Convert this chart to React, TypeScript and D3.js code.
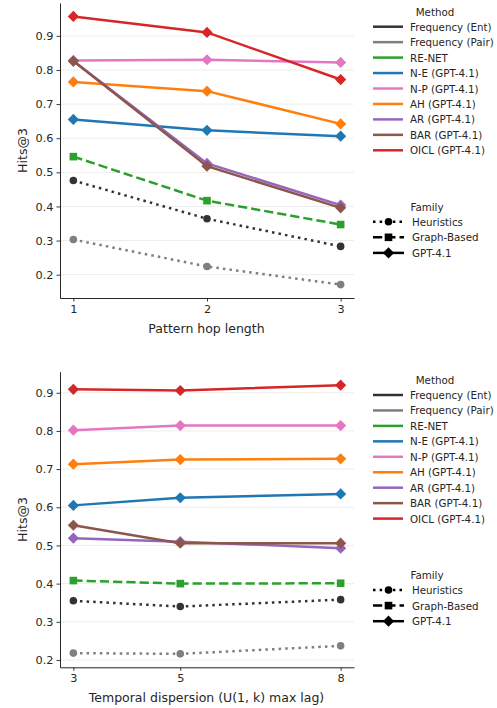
import React, { useEffect, useRef } from "react";
import * as d3 from "d3";

// method legend / series order (draw order too)
const methodNames = [
  "Frequency (Ent)",
  "Frequency (Pair)",
  "RE-NET",
  "N-E (GPT-4.1)",
  "N-P (GPT-4.1)",
  "AH (GPT-4.1)",
  "AR (GPT-4.1)",
  "BAR (GPT-4.1)",
  "OICL (GPT-4.1)",
];
const methodColors = ["#333333", "#7f7f7f", "#2ca02c", "#1f77b4", "#e377c2", "#ff7f0e", "#9467bd", "#8c564b", "#d62728"];
const methodFamily = ["Heuristics", "Heuristics", "Graph-Based", "GPT-4.1", "GPT-4.1", "GPT-4.1", "GPT-4.1", "GPT-4.1", "GPT-4.1"];

const familyNames = ["Heuristics", "Graph-Based", "GPT-4.1"];

// panel 1: pattern hop length
const hopLengths = [1, 2, 3];
const hopScores = [
  [0.476, 0.364, 0.283],
  [0.303, 0.224, 0.171],
  [0.546, 0.417, 0.347],
  [0.655, 0.623, 0.606],
  [0.828, 0.830, 0.822],
  [0.765, 0.738, 0.642],
  [0.826, 0.526, 0.404],
  [0.826, 0.518, 0.396],
  [0.957, 0.910, 0.772],
];

// panel 2: temporal dispersion
const lagValues = [3, 5, 8];
const lagScores = [
  [0.355, 0.340, 0.358],
  [0.218, 0.216, 0.237],
  [0.408, 0.400, 0.401],
  [0.605, 0.625, 0.635],
  [0.802, 0.814, 0.814],
  [0.713, 0.725, 0.727],
  [0.519, 0.510, 0.493],
  [0.553, 0.506, 0.506],
  [0.909, 0.906, 0.920],
];

const yTicks = [0.2, 0.3, 0.4, 0.5, 0.6, 0.7, 0.8, 0.9];

const FONT = "DejaVu Sans, sans-serif";
const LW = 2.5;

// matplotlib-like dash patterns, scaled by line width
function dashFor(family) {
  if (family === "Heuristics") return `${LW},${LW * 1.65}`;
  if (family === "Graph-Based") return `${LW * 3.7},${LW * 1.6}`;
  return null;
}

function drawMarker(g, family, x, y, color) {
  if (family === "Heuristics") {
    g.append("circle").attr("cx", x).attr("cy", y).attr("r", 3.8).attr("fill", color);
  } else if (family === "Graph-Based") {
    g.append("rect").attr("x", x - 3.8).attr("y", y - 3.8).attr("width", 7.6).attr("height", 7.6).attr("fill", color);
  } else {
    const s = 5.6;
    g.append("path")
      .attr("d", `M${x},${y - s}L${x + s},${y}L${x},${y + s}L${x - s},${y}Z`)
      .attr("fill", color);
  }
}

function drawPanel(svg, opts) {
  const { xs, scores, top, bottom, xLabel, legendTop } = opts;
  const left = 60, right = 354;

  const xExt = d3.extent(xs);
  const xPad = (xExt[1] - xExt[0]) * 0.05;
  const xScale = d3.scaleLinear().domain([xExt[0] - xPad, xExt[1] + xPad]).range([left, right]);

  const yExt = d3.extent(scores.flat());
  const yPad = (yExt[1] - yExt[0]) * 0.05;
  const yScale = d3.scaleLinear().domain([yExt[0] - yPad, yExt[1] + yPad]).range([bottom, top]);

  const g = svg.append("g");

  // grid
  g.selectAll(".grid")
    .data(yTicks)
    .join("line")
    .attr("x1", left).attr("x2", right)
    .attr("y1", (d) => yScale(d)).attr("y2", (d) => yScale(d))
    .attr("stroke", "#ebebeb").attr("stroke-width", 0.9);

  // axes
  const xAxis = g.append("g").attr("transform", `translate(0,${bottom})`)
    .call(d3.axisBottom(xScale).tickValues(xs).tickFormat(d3.format("d")).tickSize(3.5).tickSizeOuter(0));
  const yAxis = g.append("g").attr("transform", `translate(${left},0)`)
    .call(d3.axisLeft(yScale).tickValues(yTicks).tickFormat(d3.format(".1f")).tickSize(3.5).tickSizeOuter(0));
  [xAxis, yAxis].forEach((a) => {
    a.select(".domain").attr("stroke", "#262626").attr("stroke-width", 1);
    a.selectAll(".tick line").attr("stroke", "#262626").attr("stroke-width", 0.9);
    a.selectAll(".tick text").attr("font-family", FONT).attr("font-size", 11.3).attr("fill", "#262626");
  });
  xAxis.selectAll(".tick text").attr("dy", "0.71em").attr("y", 7);
  yAxis.selectAll(".tick text").attr("x", -6.5);

  g.append("text")
    .attr("x", (left + right) / 2 - 0.5).attr("y", bottom + 30)
    .attr("text-anchor", "middle").attr("dominant-baseline", "central")
    .attr("font-family", FONT).attr("font-size", 12.5).attr("fill", "#262626")
    .text(xLabel);
  g.append("text")
    .attr("transform", `translate(22,${(top + bottom) / 2}) rotate(-90)`)
    .attr("text-anchor", "middle").attr("dominant-baseline", "central")
    .attr("font-family", FONT).attr("font-size", 12.5).attr("fill", "#262626")
    .text("Hits@3");

  // series
  const line = d3.line().x((d) => xScale(d[0])).y((d) => yScale(d[1]));
  scores.forEach((vals, i) => {
    const pts = xs.map((x, j) => [x, vals[j]]);
    const fam = methodFamily[i];
    const sg = g.append("g");
    sg.append("path")
      .attr("d", line(pts))
      .attr("fill", "none")
      .attr("stroke", methodColors[i])
      .attr("stroke-width", LW)
      .attr("stroke-dasharray", dashFor(fam));
    pts.forEach((p) => drawMarker(sg, fam, xScale(p[0]), yScale(p[1]), methodColors[i]));
  });

  // method legend
  const lg = svg.append("g");
  const step = 15.45;
  lg.append("text")
    .attr("x", 435).attr("y", legendTop)
    .attr("text-anchor", "middle").attr("dominant-baseline", "central")
    .attr("font-family", FONT).attr("font-size", 10.3).attr("fill", "#262626")
    .text("Method");
  methodNames.forEach((name, i) => {
    const y = legendTop + 15 + i * step;
    lg.append("line").attr("x1", 373).attr("x2", 403).attr("y1", y).attr("y2", y)
      .attr("stroke", methodColors[i]).attr("stroke-width", LW);
    lg.append("text")
      .attr("x", 410).attr("y", y)
      .attr("dominant-baseline", "central")
      .attr("font-family", FONT).attr("font-size", 10.3).attr("fill", "#262626")
      .text(name);
  });

  // family legend
  const fTop = legendTop + 195;
  lg.append("text")
    .attr("x", 427).attr("y", fTop)
    .attr("text-anchor", "middle").attr("dominant-baseline", "central")
    .attr("font-family", FONT).attr("font-size", 10.3).attr("fill", "#262626")
    .text("Family");
  familyNames.forEach((name, i) => {
    const y = fTop + 15 + i * 15.6;
    lg.append("line").attr("x1", 373).attr("x2", 404).attr("y1", y).attr("y2", y)
      .attr("stroke", "black").attr("stroke-width", LW)
      .attr("stroke-dasharray", dashFor(name));
    drawMarker(lg, name, 388.5, y, "black");
    lg.append("text")
      .attr("x", 412).attr("y", y)
      .attr("dominant-baseline", "central")
      .attr("font-family", FONT).attr("font-size", 10.3).attr("fill", "#262626")
      .text(name);
  });
}

export default function App() {
  const ref = useRef(null);

  useEffect(() => {
    const svg = d3.select(ref.current);
    svg.selectAll("*").remove();
    drawPanel(svg, {
      xs: hopLengths, scores: hopScores, top: 3, bottom: 298,
      xLabel: "Pattern hop length", legendTop: 11.7,
    });
    drawPanel(svg, {
      xs: lagValues, scores: lagScores, top: 371.7, bottom: 667.3,
      xLabel: "Temporal dispersion (U(1, k) max lag)", legendTop: 380,
    });
  }, []);

  return (
    <div style={{ position: "absolute", left: 0, top: 0 }}>
      <svg ref={ref} width={497} height={708} style={{ display: "block", background: "white" }} />
    </div>
  );
}
